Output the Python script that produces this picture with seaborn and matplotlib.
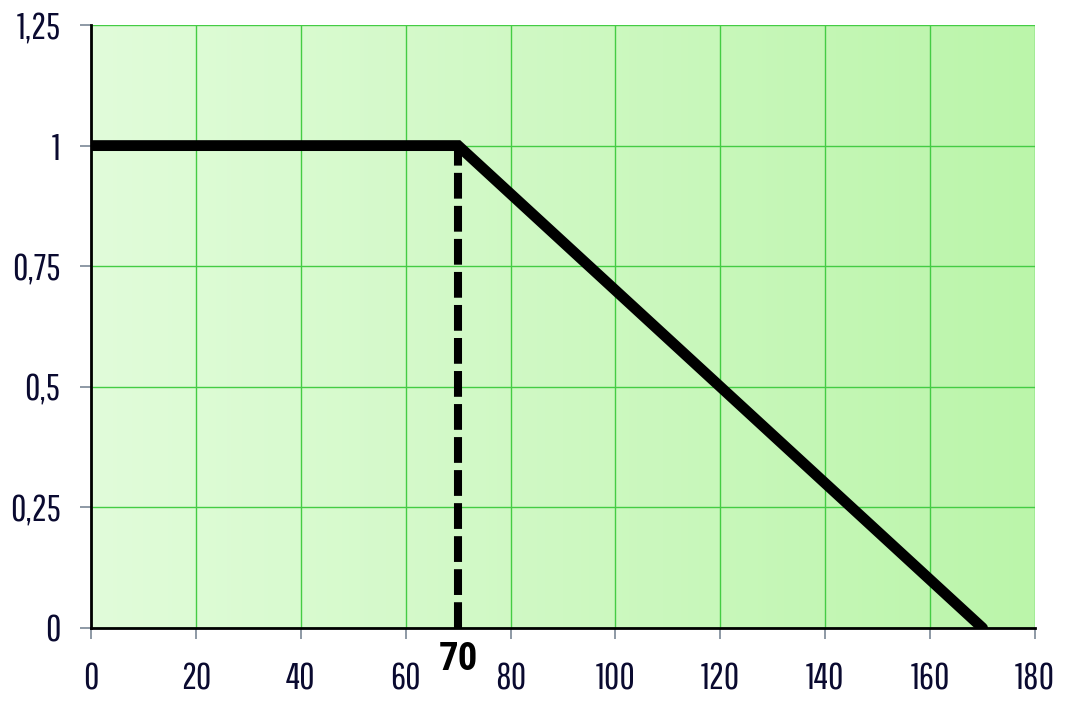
import numpy as np
import pandas as pd
import matplotlib
matplotlib.use("Agg")
import matplotlib.pyplot as plt
import matplotlib.transforms as mtransforms
from matplotlib.colors import LinearSegmentedColormap
import seaborn as sns

# Data
x_vals = [0, 70, 170]
y_vals = [1, 1, 0]
knee_x = 70
x_ticks = [0, 20, 40, 60, 80, 100, 120, 140, 160, 180]
y_ticks = [0, 0.25, 0.5, 0.75, 1, 1.25]
y_tick_labels = ["0", "0,25", "0,5", "0,75", "1", "1,25"]

sns.set_theme(style="white")
plt.rcParams['font.family'] = ['Pathway Gothic One', 'Roboto Condensed', 'DejaVu Sans']

fig = plt.figure(figsize=(10.66, 7.03), dpi=100)
ax = fig.add_axes([91/1066, 1-628/703, (1035-91)/1066, (628-25)/703])

# gradient background
cmap = LinearSegmentedColormap.from_list("g", ["#e1fcda", "#bbf5aa"])
grad = np.linspace(0, 1, 256).reshape(1, -1)
ax.imshow(grad, cmap=cmap, extent=[0, 180, 0, 1.25], aspect='auto', zorder=0)

df = pd.DataFrame({"x": x_vals, "y": y_vals})
sns.lineplot(data=df, x="x", y="y", ax=ax, color="black", linewidth=7.8,
             solid_capstyle="round", solid_joinstyle="miter", zorder=5)
ax.plot([knee_x, knee_x], [0, 1], color="black", linewidth=5.8,
        linestyle=(0, (3.2, 0.9)), dash_capstyle="butt", zorder=4)

ax.set_xlim(0, 180)
ax.set_ylim(0, 1.25)
ax.set_xticks(x_ticks)
ax.set_yticks(y_ticks)
ax.set_yticklabels(y_tick_labels)
ax.set_xlabel("")
ax.set_ylabel("")
ax.grid(True, color="#44cc44", linewidth=1.0)
for gl in ax.get_xgridlines() + ax.get_ygridlines():
    gl.set_zorder(1)

for s in ["top", "right"]:
    ax.spines[s].set_visible(False)
for s in ["left", "bottom"]:
    ax.spines[s].set_color("black")
    ax.spines[s].set_linewidth(2)
    ax.spines[s].set_zorder(6)

ax.tick_params(axis="both", which="major", direction="out", length=8,
               width=1.2, color="#7a8896", labelsize=27, labelcolor="#0a0a30",
               bottom=True, left=True)
ax.tick_params(axis="x", pad=16)
ax.tick_params(axis="y", pad=14)

trans = mtransforms.blended_transform_factory(ax.transData, ax.transAxes)
ax.text(knee_x, -0.022, "70", transform=trans, ha="center", va="top",
        fontsize=28, fontweight="bold", color="black",
        family=['Roboto Condensed', 'DejaVu Sans'])

fig.savefig("out.png", dpi=100)
